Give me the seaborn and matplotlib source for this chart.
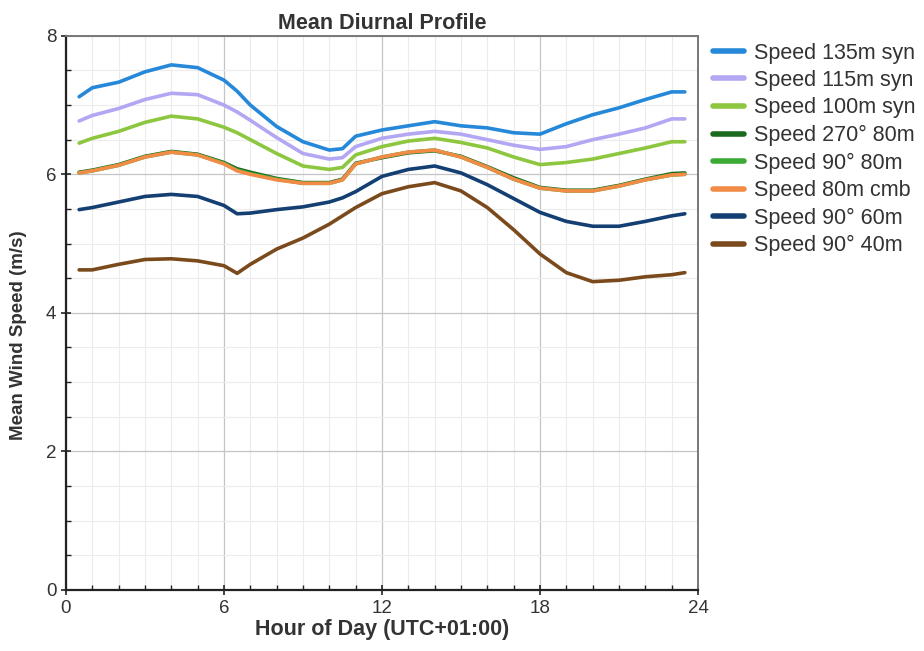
import numpy as np
import pandas as pd
import matplotlib
matplotlib.use("Agg")
import matplotlib.pyplot as plt
from matplotlib.ticker import MultipleLocator
import seaborn as sns

# Hour of day (sample points)
hours = [0.5, 1, 2, 3, 4, 5, 6, 6.5, 7, 8, 9, 10, 10.5, 11, 12, 13, 14, 15, 16, 17, 18, 19, 20, 21, 22, 23, 23.5]

speed_135m_syn = [7.12, 7.25, 7.33, 7.48, 7.58, 7.54, 7.36, 7.20, 7.00, 6.69, 6.47, 6.35, 6.37, 6.55, 6.64, 6.70, 6.76, 6.70, 6.67, 6.60, 6.58, 6.73, 6.86, 6.96, 7.08, 7.19, 7.19]
speed_115m_syn = [6.77, 6.85, 6.95, 7.08, 7.17, 7.15, 7.00, 6.90, 6.78, 6.53, 6.30, 6.22, 6.24, 6.40, 6.52, 6.58, 6.62, 6.58, 6.50, 6.42, 6.36, 6.40, 6.50, 6.58, 6.67, 6.80, 6.80]
speed_100m_syn = [6.45, 6.52, 6.62, 6.75, 6.84, 6.80, 6.68, 6.60, 6.50, 6.30, 6.12, 6.07, 6.10, 6.28, 6.40, 6.48, 6.52, 6.46, 6.38, 6.25, 6.14, 6.17, 6.22, 6.30, 6.38, 6.47, 6.47]
speed_270_80m = [6.03, 6.06, 6.14, 6.26, 6.33, 6.29, 6.17, 6.08, 6.03, 5.94, 5.88, 5.88, 5.93, 6.16, 6.24, 6.31, 6.34, 6.26, 6.11, 5.95, 5.81, 5.77, 5.77, 5.84, 5.93, 6.01, 6.02]
speed_90_80m = [6.02, 6.05, 6.13, 6.25, 6.32, 6.28, 6.16, 6.06, 6.01, 5.93, 5.87, 5.87, 5.92, 6.15, 6.25, 6.32, 6.35, 6.25, 6.10, 5.93, 5.80, 5.76, 5.76, 5.83, 5.92, 5.99, 6.00]
speed_80m_cmb = [6.02, 6.05, 6.13, 6.25, 6.32, 6.28, 6.15, 6.05, 6.00, 5.92, 5.87, 5.87, 5.92, 6.15, 6.25, 6.32, 6.35, 6.25, 6.10, 5.93, 5.80, 5.76, 5.76, 5.83, 5.92, 5.99, 6.00]
speed_90_60m = [5.49, 5.52, 5.60, 5.68, 5.71, 5.68, 5.55, 5.43, 5.44, 5.49, 5.53, 5.60, 5.66, 5.75, 5.97, 6.07, 6.12, 6.02, 5.85, 5.65, 5.45, 5.32, 5.25, 5.25, 5.32, 5.40, 5.43]
speed_90_40m = [4.62, 4.62, 4.70, 4.77, 4.78, 4.75, 4.68, 4.57, 4.70, 4.92, 5.08, 5.28, 5.40, 5.52, 5.72, 5.82, 5.88, 5.76, 5.52, 5.20, 4.85, 4.58, 4.45, 4.47, 4.52, 4.55, 4.58]

series_names = ["Speed 135m syn", "Speed 115m syn", "Speed 100m syn", "Speed 270° 80m",
                "Speed 90° 80m", "Speed 80m cmb", "Speed 90° 60m", "Speed 90° 40m"]
series_values = [speed_135m_syn, speed_115m_syn, speed_100m_syn, speed_270_80m,
                 speed_90_80m, speed_80m_cmb, speed_90_60m, speed_90_40m]
colors = ["#2688d8", "#b3a6f2", "#8dc63f", "#1b6b1f", "#3aaa35", "#f28b45", "#143f73", "#7b4a1c"]

# long-form table for seaborn
df = pd.concat([pd.DataFrame({"hour": hours, "speed": v, "series": n})
                for n, v in zip(series_names, series_values)], ignore_index=True)

sns.set_theme(style="white")
plt.rcParams['font.family'] = ['Liberation Sans', 'DejaVu Sans']

fig = plt.figure(figsize=(9.24, 6.51), dpi=100)
ax = fig.add_axes([0.0714, 0.094, 0.684, 0.851])

# draw the 80m lines first so orange ends up on top, like the reference
draw_order = [3, 4, 0, 1, 2, 6, 7, 5]
for i in draw_order:
    sub = df[df.series == series_names[i]]
    sns.lineplot(data=sub, x="hour", y="speed", color=colors[i], lw=2.6,
                 ax=ax, label=series_names[i], zorder=3 + i)

ax.set_xlim(0, 24)
ax.set_ylim(0, 8)
ax.xaxis.set_major_locator(MultipleLocator(6))
ax.xaxis.set_minor_locator(MultipleLocator(1))
ax.yaxis.set_major_locator(MultipleLocator(2))
ax.yaxis.set_minor_locator(MultipleLocator(0.5))
ax.grid(which="major", color="#c4c4c4", lw=0.9)
ax.grid(which="minor", color="#ececec", lw=0.8)
ax.set_axisbelow(True)

for side in ["left", "bottom"]:
    ax.spines[side].set_color("#222222")
    ax.spines[side].set_linewidth(1.6)
for side in ["top", "right"]:
    ax.spines[side].set_color("#777777")
    ax.spines[side].set_linewidth(1.4)

ax.tick_params(which="major", direction="inout", length=7, width=1.2, color="#222222",
               labelsize=13.5, labelcolor="#333333", left=True, bottom=True)
ax.tick_params(which="minor", direction="in", length=3.5, width=1.0, color="#222222",
               left=True, bottom=True)

ax.set_xlabel("Hour of Day (UTC+01:00)", fontsize=15.5, fontweight="bold", color="#333333",
              labelpad=2)
ax.set_ylabel("Mean Wind Speed (m/s)", fontsize=13.5, fontweight="bold", color="#333333")
ax.yaxis.set_label_coords(-0.062, 0.46)
ax.set_title("Mean Diurnal Profile", fontsize=15.5, fontweight="bold", color="#333333", pad=5)

handles, labels = ax.get_legend_handles_labels()
order = [labels.index(n) for n in series_names]
leg = ax.legend([handles[k] for k in order], [labels[k] for k in order],
                loc="upper left", bbox_to_anchor=(1.0, 1.015), frameon=False,
                fontsize=15.5, handlelength=1.45, handletextpad=0.45, labelspacing=0.3,
                borderaxespad=0.3)
for t in leg.get_texts():
    t.set_color("#333333")
for h in leg.get_lines():
    h.set_linewidth(4)

fig.savefig("out.png", dpi=100)
